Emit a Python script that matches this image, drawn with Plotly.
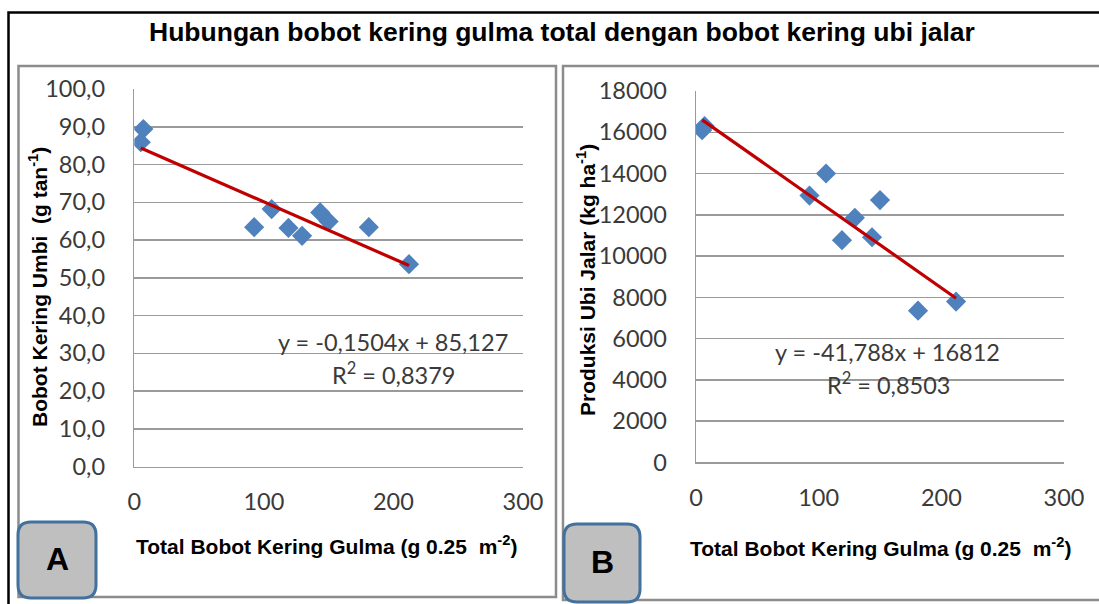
import plotly.graph_objects as go

# ---------------- data ----------------
weed_dry_weight = [5, 7, 92.5, 106, 119, 129.5, 143.5, 150, 181, 212]          # x (g 0.25 m-2)
tuber_dry_weight = [85.9, 89.4, 63.4, 68.2, 63.2, 61.1, 67.3, 64.9, 63.4, 53.6]  # panel A (g tan-1)
sweet_potato_yield = [16100, 16300, 12930, 14000, 10770, 11850, 10910, 12710, 7350, 7790]  # panel B (kg ha-1)

slope_a, intercept_a, r2_a = -0.1504, 85.127, 0.8379
slope_b, intercept_b, r2_b = -41.788, 16812, 0.8503

x_ticks = [0, 100, 200, 300]
title_text = "Hubungan bobot kering gulma total dengan bobot kering ubi jalar"
x_title = "Total Bobot Kering Gulma (g 0.25  m<sup>-2</sup>)"
y_title_a = "Bobot Kering Umbi  (g tan<sup>-1</sup>)"
y_title_b = "Produksi Ubi Jalar (kg ha<sup>-1</sup>)"

# ---------------- helpers ----------------
W, H = 1099, 604
def px(x):
    return x / W
def py(y):
    return 1 - y / H

def rrect(x0, y0, x1, y1, r):
    def P(x, y):
        return f"{px(x):.5f},{py(y):.5f}"
    return (f"M {P(x0 + r, y0)} L {P(x1 - r, y0)} Q {P(x1, y0)} {P(x1, y0 + r)} "
            f"L {P(x1, y1 - r)} Q {P(x1, y1)} {P(x1 - r, y1)} L {P(x0 + r, y1)} "
            f"Q {P(x0, y1)} {P(x0, y1 - r)} L {P(x0, y0 + r)} Q {P(x0, y0)} {P(x0 + r, y0)} Z")

MARKER = "#4F81BD"
TREND = "#C00000"
GRID = "#9A9A9A"
TXT = "#3A3A3A"
TICKFONT = dict(family="Lato, Calibri, sans-serif", size=23.5, color=TXT)
BOLD = "Liberation Sans, Arial, sans-serif"

fig = go.Figure()

# panel A
fig.add_trace(go.Scatter(x=weed_dry_weight, y=tuber_dry_weight, mode="markers",
                         marker=dict(symbol="diamond", size=15.5, color=MARKER),
                         xaxis="x", yaxis="y", showlegend=False))
xa = [min(weed_dry_weight), max(weed_dry_weight)]
fig.add_trace(go.Scatter(x=xa, y=[slope_a * v + intercept_a for v in xa], mode="lines",
                         line=dict(color=TREND, width=3.2), xaxis="x", yaxis="y", showlegend=False))
# panel B
fig.add_trace(go.Scatter(x=weed_dry_weight, y=sweet_potato_yield, mode="markers",
                         marker=dict(symbol="diamond", size=15.5, color=MARKER),
                         xaxis="x2", yaxis="y2", showlegend=False))
fig.add_trace(go.Scatter(x=xa, y=[slope_b * v + intercept_b for v in xa], mode="lines",
                         line=dict(color=TREND, width=3.2), xaxis="x2", yaxis="y2", showlegend=False))

axis_common = dict(showline=True, linecolor=GRID, linewidth=1.5, zeroline=False, ticks="",
                   tickfont=TICKFONT, fixedrange=True, automargin=False)

fig.update_layout(
    template="none",
    width=W, height=H, autosize=False,
    margin=dict(l=0, r=0, t=0, b=0, pad=0, autoexpand=False),
    paper_bgcolor="white", plot_bgcolor="rgba(0,0,0,0)",
    separators=",.",
    xaxis=dict(domain=[px(134.3), px(523)], range=[0, 300], tickvals=x_ticks, showgrid=False,
               anchor="y", ticklabelstandoff=14, **axis_common),
    yaxis=dict(domain=[py(466.5), py(89)], range=[0, 100], dtick=10, tickformat=".1f",
               showgrid=True, gridcolor=GRID, gridwidth=1.5, anchor="x", ticklabelstandoff=23,
               **axis_common),
    xaxis2=dict(domain=[px(696), px(1064)], range=[0, 300], tickvals=x_ticks, showgrid=False,
                anchor="y2", ticklabelstandoff=14, **axis_common),
    yaxis2=dict(domain=[py(462.3), py(91)], range=[0, 18000], dtick=2000, tickformat="d",
                showgrid=True, gridcolor=GRID, gridwidth=1.5, anchor="x2", ticklabelstandoff=23,
                **axis_common),
)

shapes = [
    dict(type="rect", xref="paper", yref="paper", x0=px(8.5), y0=py(12.5), x1=px(1120), y1=py(640),
         line=dict(color="black", width=2.5), layer="below"),
    dict(type="rect", xref="paper", yref="paper", x0=px(18.5), y0=py(66), x1=px(556), y1=py(597),
         line=dict(color="#8C8C8C", width=2.5), layer="below"),
    dict(type="rect", xref="paper", yref="paper", x0=px(563), y0=py(66), x1=px(1120), y1=py(600),
         line=dict(color="#8C8C8C", width=2.5), layer="below"),
    dict(type="path", xref="paper", yref="paper", path=rrect(18, 522, 96, 598, 13),
         fillcolor="#BFBFBF", line=dict(color="#41719C", width=3), layer="above"),
    dict(type="path", xref="paper", yref="paper", path=rrect(564, 524, 640, 602, 13),
         fillcolor="#BFBFBF", line=dict(color="#41719C", width=3), layer="above"),
]
fig.update_layout(shapes=shapes)

def ann(text, x, y, size, family, color="black", bold=False, angle=0):
    t = f"<b>{text}</b>" if bold else text
    return dict(text=t, x=px(x), y=py(y), xref="paper", yref="paper", showarrow=False,
                xanchor="center", yanchor="middle", textangle=angle,
                font=dict(size=size, family=family, color=color))

eq_font = "Lato, Calibri, sans-serif"
anns = [
    ann(title_text, 562, 32, 26.5, BOLD, bold=True),
    ann(x_title, 326, 545, 21, BOLD, bold=True),
    ann(x_title, 880, 547, 21, BOLD, bold=True),
    ann(y_title_a, 38, 287, 21, BOLD, bold=True, angle=-90),
    ann(y_title_b, 586, 280, 21, BOLD, bold=True, angle=-90),
    ann(f"y = {slope_a:.4f}x + {intercept_a:.3f}".replace(".", ","), 393, 342, 23.5, eq_font, TXT),
    ann(f"R<sup>2</sup> = {r2_a:.4f}".replace(".", ","), 393, 373, 23.5, eq_font, TXT),
    ann(f"y = {slope_b:.3f}x + {intercept_b}".replace(".", ","), 887, 352, 23.5, eq_font, TXT),
    ann(f"R<sup>2</sup> = {r2_b:.4f}".replace(".", ","), 888, 383, 23.5, eq_font, TXT),
    ann("A", 57, 559, 32, BOLD, bold=True),
    ann("B", 602, 562, 32, BOLD, bold=True),
]
fig.update_layout(annotations=anns)

fig.write_html("out.html",
               config={"displayModeBar": False, "staticPlot": True},
               post_script="document.body.style.margin='0';document.body.style.overflow='hidden';")
